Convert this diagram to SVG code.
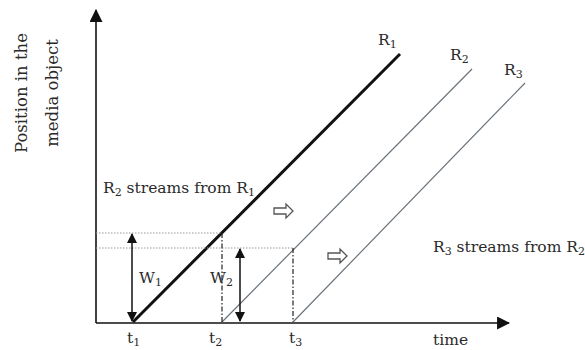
<svg xmlns="http://www.w3.org/2000/svg" width="585" height="350" viewBox="0 0 585 350">
<defs>
<marker id="ah" viewBox="0 0 10 10" refX="9" refY="5" markerWidth="10" markerHeight="10" markerUnits="userSpaceOnUse" orient="auto-start-reverse"><path d="M0,0 L10,5 L0,10 z" fill="#111"/></marker>
<marker id="axh" viewBox="0 0 12 12" refX="11" refY="6" markerWidth="13" markerHeight="13" markerUnits="userSpaceOnUse" orient="auto"><path d="M0,0 L12,6 L0,12 z" fill="#111"/></marker>
<path id="hollow" d="M0,-3 L12,-3 L12,-7 L19,0 L12,7 L12,3 L0,3 z"/>
</defs>
<style>
text{font-family:"DejaVu Serif","Liberation Serif",serif;font-size:15.5px;fill:#2a2a2a}
.sub{font-size:11px}
.yl{font-size:16.5px}
.axis{stroke:#111;stroke-width:1.6;fill:none}
.r1{stroke:#111;stroke-width:3;fill:none}
.rg{stroke:#6b737a;stroke-width:1.2;fill:none}
.dot{stroke:#999;stroke-width:1;stroke-dasharray:1.5 1.5;fill:none}
.dd{stroke:#222;stroke-width:1.2;stroke-dasharray:5 2 1.5 2;fill:none}
.w{stroke:#111;stroke-width:1.5;fill:none}
.ho{fill:#fff;stroke:#555;stroke-width:1.3}
</style>
<rect width="585" height="350" fill="#fff"/>
<g id="connectors">
<line class="axis" x1="96" y1="323" x2="96" y2="10" marker-end="url(#axh)"/>
<line class="axis" x1="96" y1="323" x2="509" y2="323" marker-end="url(#axh)"/>
<line class="r1" x1="133" y1="322" x2="400" y2="54"/>
<line class="rg" x1="222" y1="322" x2="472" y2="69"/>
<line class="rg" x1="293" y1="322" x2="525" y2="83"/>
<line class="dot" x1="96" y1="233" x2="222" y2="233"/>
<line class="dot" x1="96" y1="248" x2="294" y2="248"/>
<line class="dd" x1="222" y1="233" x2="222" y2="322"/>
<line class="dd" x1="293" y1="248" x2="293" y2="322"/>
<line class="w" x1="132" y1="234" x2="132" y2="321" marker-start="url(#ah)" marker-end="url(#ah)"/>
<line class="w" x1="240" y1="249" x2="240" y2="321" marker-start="url(#ah)" marker-end="url(#ah)"/>
<use href="#hollow" class="ho" transform="translate(274,211)"/>
<use href="#hollow" class="ho" transform="translate(328,256)"/>
</g>
<g id="ylabel">
<text class="yl" transform="translate(27,93) rotate(-90)" text-anchor="middle">Position in the</text>
<text class="yl" transform="translate(58,93) rotate(-90)" text-anchor="middle">media object</text>
</g>
<g id="R1"><text x="378" y="45">R<tspan class="sub" dy="3">1</tspan></text></g>
<g id="R2"><text x="450" y="60">R<tspan class="sub" dy="3">2</tspan></text></g>
<g id="R3"><text x="504" y="75">R<tspan class="sub" dy="3">3</tspan></text></g>
<g id="label-r2"><text x="103" y="193">R<tspan class="sub" dy="3">2</tspan><tspan dy="-3"> streams from R</tspan><tspan class="sub" dy="3">1</tspan></text></g>
<g id="label-r3"><text x="433" y="252">R<tspan class="sub" dy="3">3</tspan><tspan dy="-3"> streams from R</tspan><tspan class="sub" dy="3">2</tspan></text></g>
<g id="W1"><text x="139" y="283">W<tspan class="sub" dy="3">1</tspan></text></g>
<g id="W2"><text x="210" y="283">W<tspan class="sub" dy="3">2</tspan></text></g>
<g id="t1"><text x="127" y="343">t<tspan class="sub" dy="3">1</tspan></text></g>
<g id="t2"><text x="209" y="343">t<tspan class="sub" dy="3">2</tspan></text></g>
<g id="t3"><text x="289" y="343">t<tspan class="sub" dy="3">3</tspan></text></g>
<g id="time"><text x="433" y="345">time</text></g>
</svg>
